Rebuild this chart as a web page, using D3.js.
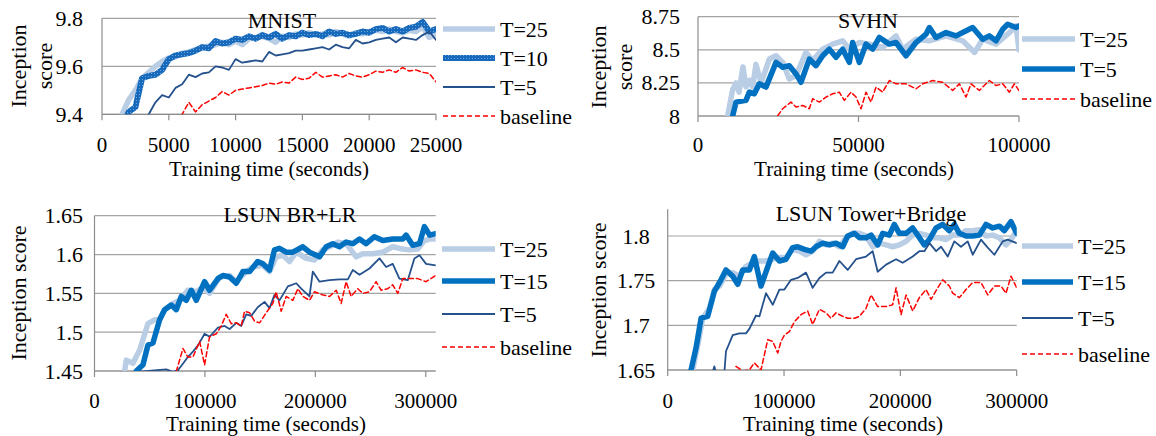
<!DOCTYPE html>
<html><head><meta charset="utf-8">
<script src="https://cdn.jsdelivr.net/npm/d3@7"></script>
<style>
body{margin:0;background:#fff}
svg{display:block}
text{font-family:"Liberation Serif","Times New Roman",serif;fill:#000}
</style>
</head><body>
<svg id="c" width="1156" height="436"></svg>
<script>
// ---------------- DATA ----------------
// MNIST
const mnistXTicks = [0,5000,10000,15000,20000,25000];
const mnistYTicks = [9.4,9.6,9.8];
const mnistT25Time = [1500,2000,2500,3000,3500,4000,4500,5000,5500,6000,6500,7000,7500,8000,8500,9000,9500,10000,10500,11000,11500,12000,12500,13000,13500,14000,14500,15000,15500,16000,16500,17000,17500,18000,18500,19000,19500,20000,20500,21000,21500,22000,22500,23000,23500,24000,24500,25000];
const mnistT25 = [9.40,9.46,9.50,9.55,9.575,9.60,9.62,9.635,9.64,9.655,9.66,9.67,9.675,9.685,9.69,9.70,9.69,9.705,9.69,9.715,9.72,9.725,9.715,9.70,9.725,9.72,9.735,9.73,9.74,9.73,9.735,9.73,9.745,9.735,9.725,9.74,9.735,9.745,9.75,9.745,9.755,9.745,9.74,9.75,9.745,9.765,9.72,9.735];
const mnistT10Time = [1500,2000,2500,3000,3500,4000,4500,5000,5500,6000,6500,7000,7500,8000,8500,9000,9500,10000,10500,11000,11500,12000,12500,13000,13500,14000,14500,15000,15500,16000,16500,17000,17500,18000,18500,19000,19500,20000,20500,21000,21500,22000,22500,23000,23500,24000,24500,25000];
const mnistT10 = [9.35,9.41,9.43,9.55,9.56,9.565,9.585,9.63,9.645,9.65,9.655,9.665,9.68,9.675,9.705,9.695,9.70,9.715,9.71,9.725,9.715,9.73,9.72,9.735,9.715,9.73,9.725,9.74,9.73,9.735,9.725,9.745,9.735,9.74,9.73,9.735,9.745,9.74,9.755,9.76,9.745,9.755,9.745,9.76,9.765,9.785,9.745,9.755];
const mnistT5Time = [3000,3500,4000,4500,5000,5500,6000,6500,7000,7500,8000,8500,9000,9500,10000,10500,11000,11500,12000,12500,13000,13500,14000,14500,15000,15500,16000,16500,17000,17500,18000,18500,19000,19500,20000,20500,21000,21500,22000,22500,23000,23500,24000,24500,25000];
const mnistT5 = [9.37,9.40,9.45,9.48,9.47,9.51,9.525,9.565,9.555,9.57,9.575,9.60,9.595,9.585,9.63,9.615,9.62,9.625,9.62,9.66,9.645,9.65,9.655,9.665,9.665,9.67,9.675,9.68,9.67,9.69,9.68,9.675,9.71,9.695,9.70,9.71,9.715,9.72,9.70,9.72,9.715,9.71,9.73,9.745,9.71];
const mnistBaseTime = [5500,6000,6500,7000,7500,8000,8500,9000,9500,10000,10500,11000,11500,12000,12500,13000,13500,14000,14500,15000,15500,16000,16500,17000,17500,18000,18500,19000,19500,20000,20500,21000,21500,22000,22500,23000,23500,24000,24500,25000];
const mnistBase = [9.37,9.40,9.45,9.41,9.44,9.455,9.47,9.495,9.48,9.50,9.505,9.51,9.515,9.52,9.53,9.525,9.535,9.53,9.555,9.545,9.55,9.575,9.555,9.56,9.565,9.555,9.57,9.56,9.555,9.565,9.58,9.575,9.585,9.575,9.595,9.58,9.585,9.575,9.57,9.535];

// SVHN
const svhnXTicks = [0,50000,100000];
const svhnYTicks = [8,8.25,8.5,8.75];
const svhnT25Time = [9240,10800,11840,12800,14000,14950,16000,17000,18070,19630,20800,22220,24300,26380,28450,30530,33640,35720,38840,41960,45070,47150,50260,53380,57530,61680,63760,67910,72070,77270,82460,86190,88690,92840,97000,99070,100000];
const svhnT25 = [8.0,8.2,8.25,8.18,8.37,8.22,8.27,8.22,8.39,8.25,8.33,8.43,8.455,8.405,8.28,8.305,8.48,8.418,8.505,8.543,8.568,8.505,8.555,8.543,8.518,8.605,8.505,8.58,8.568,8.605,8.568,8.48,8.58,8.543,8.63,8.68,8.50];
const svhnT5Time = [10800,11840,14950,16000,17550,19100,21180,24300,26380,28450,30530,32090,34680,36760,38840,40910,43000,45070,47150,48180,50260,52340,54410,56490,59600,61680,64800,67910,71030,72070,74150,77270,80380,82460,85570,88690,90770,92840,94920,96470,99070,100000];
const svhnT5 = [8.0,8.105,8.118,8.18,8.168,8.243,8.218,8.405,8.368,8.38,8.318,8.255,8.43,8.38,8.455,8.505,8.443,8.505,8.405,8.555,8.405,8.543,8.505,8.593,8.543,8.555,8.455,8.555,8.618,8.668,8.593,8.63,8.605,8.63,8.668,8.58,8.605,8.568,8.655,8.693,8.668,8.68];
const svhnBaseTime = [24800,26380,28960,30530,32610,34680,35720,37800,39880,41960,44030,45590,47670,49220,50780,52340,53900,55450,57530,59600,61680,64800,67910,69990,73110,76230,79340,81420,83500,85050,87650,90770,92840,94920,97000,98550,100000];
const svhnBase = [8.0,8.055,8.105,8.068,8.08,8.055,8.13,8.105,8.143,8.168,8.18,8.118,8.18,8.143,8.055,8.18,8.105,8.218,8.18,8.268,8.243,8.243,8.205,8.243,8.268,8.255,8.193,8.243,8.143,8.243,8.193,8.268,8.23,8.243,8.18,8.243,8.193];

// LSUN BR+LR
const lbXTicks = [0,100000,200000,300000];
const lbYTicks = [1.45,1.5,1.55,1.6,1.65];
const lbT25Time = [27300,28800,34800,40900,48400,54400,59000,63500,71000,77100,84600,92200,98200,104200,113300,122300,128400,137400,143400,152500,158500,164500,170600,176600,182700,191700,199200,206800,215800,220400,227900,237000,243000,252000,261100,270100,279200,285200,292700,298800,303500,309000];
const lbT25 = [1.45,1.464,1.46,1.477,1.511,1.516,1.516,1.529,1.537,1.541,1.554,1.552,1.558,1.55,1.571,1.573,1.565,1.578,1.584,1.586,1.578,1.597,1.599,1.591,1.603,1.595,1.593,1.606,1.612,1.616,1.614,1.597,1.601,1.601,1.603,1.61,1.607,1.606,1.607,1.618,1.62,1.62];
const lbT15Time = [37860,43890,48420,52940,58970,63500,69530,74060,78580,83110,87630,92160,99700,104200,111800,116300,122300,128400,134400,140500,147800,152500,158500,163000,167500,173600,179600,188700,194700,203800,209800,215800,221900,227900,233900,240000,246000,253500,261100,270100,279200,282200,288200,294300,298800,303500,309000];
const lbT15 = [1.45,1.458,1.4835,1.486,1.516,1.529,1.535,1.529,1.546,1.541,1.554,1.541,1.565,1.554,1.569,1.573,1.571,1.563,1.578,1.578,1.591,1.588,1.58,1.606,1.608,1.603,1.603,1.61,1.603,1.597,1.61,1.614,1.61,1.616,1.614,1.62,1.614,1.623,1.618,1.62,1.62,1.625,1.612,1.614,1.636,1.625,1.627];
const lbT5Time = [38000,65000,71000,75600,84600,89100,93700,99700,104200,111800,117800,122300,128400,132900,137400,141900,147800,154000,158500,163000,167500,175100,182700,187200,194700,197700,203800,212800,221900,229400,233900,240000,249000,258100,264100,270100,276100,283700,289700,294300,300300,309000];
const lbT5 = [1.449,1.452,1.449,1.451,1.468,1.475,1.483,1.498,1.494,1.506,1.508,1.504,1.512,1.508,1.523,1.521,1.532,1.539,1.531,1.548,1.541,1.559,1.563,1.556,1.546,1.578,1.565,1.567,1.568,1.568,1.58,1.574,1.582,1.595,1.584,1.588,1.569,1.567,1.595,1.599,1.588,1.586];
const lbBaseTime = [74000,80100,84600,89100,95200,99700,104200,110300,114800,119300,123800,128400,132900,135900,140500,145000,149500,155500,161500,164500,169100,173600,179600,184200,188700,194700,199200,206800,212800,218900,223400,227900,232400,238400,243000,249000,255000,259600,265600,270100,274700,279200,285200,292700,300300,309000];
const lbBase = [1.449,1.479,1.468,1.468,1.488,1.458,1.494,1.498,1.508,1.523,1.511,1.512,1.508,1.527,1.525,1.514,1.512,1.525,1.537,1.552,1.527,1.546,1.541,1.556,1.546,1.541,1.552,1.548,1.546,1.554,1.537,1.565,1.546,1.556,1.55,1.552,1.565,1.554,1.556,1.561,1.55,1.569,1.569,1.569,1.565,1.573];

// LSUN Tower+Bridge
const ltXTicks = [0,100000,200000,300000];
const ltYTicks = [1.65,1.7,1.75,1.8];
const ltT25Time = [21500,25800,30100,35800,40100,44400,50100,55900,61600,67300,73100,78800,84500,90300,96000,101700,107400,113200,118900,124600,130400,136100,141800,147600,153300,159000,164800,170500,176200,181900,187700,193400,199100,204900,210600,216300,222100,227800,233500,239300,245000,250700,256400,262200,267900,273600,279400,285100,290800,295100,300000];
const ltT25 = [1.65,1.678,1.708,1.719,1.74,1.744,1.757,1.759,1.755,1.766,1.77,1.772,1.772,1.774,1.776,1.776,1.785,1.783,1.779,1.783,1.794,1.79,1.792,1.788,1.798,1.803,1.803,1.8,1.788,1.792,1.79,1.788,1.79,1.794,1.801,1.803,1.801,1.798,1.798,1.796,1.801,1.801,1.806,1.806,1.807,1.8,1.801,1.798,1.79,1.796,1.806];
const ltT15Time = [20060,24400,28700,34400,40100,45800,50100,55900,60200,64500,70200,74500,80200,84500,90300,96000,101700,107400,111700,117500,123200,127500,133200,139000,144700,150400,154700,160500,164800,170500,174800,180500,184800,190500,194800,199100,204900,210600,214900,220600,224900,230700,236400,242100,246400,250700,256400,262200,267900,273600,279400,285100,289400,295100,300000];
const ltT15 = [1.65,1.675,1.708,1.71,1.738,1.751,1.762,1.755,1.746,1.762,1.762,1.777,1.744,1.76,1.781,1.772,1.774,1.787,1.788,1.785,1.783,1.788,1.792,1.79,1.792,1.788,1.8,1.803,1.798,1.798,1.801,1.79,1.803,1.801,1.813,1.803,1.803,1.809,1.801,1.79,1.796,1.809,1.813,1.806,1.813,1.803,1.8,1.8,1.801,1.813,1.809,1.811,1.806,1.816,1.803];
const ltT5Time = [38700,40100,41500,48700,50100,55900,61600,67300,70200,75900,78800,84500,90300,96000,100300,106000,111700,118900,124600,130400,136100,141800,147600,154700,161900,170500,176200,180500,187700,196300,202000,210600,216300,220600,225000,230700,235000,240700,246400,252100,257900,262200,269300,275100,280800,288000,292300,300000];
const ltT5 = [1.648,1.654,1.647,1.647,1.671,1.689,1.691,1.691,1.696,1.711,1.71,1.736,1.723,1.74,1.74,1.751,1.753,1.759,1.742,1.753,1.759,1.759,1.772,1.762,1.774,1.777,1.783,1.76,1.768,1.774,1.77,1.777,1.783,1.783,1.792,1.783,1.788,1.777,1.794,1.788,1.794,1.779,1.796,1.787,1.779,1.794,1.796,1.792];
const ltBaseTime = [58700,64500,70200,74500,80200,86000,90300,94600,97400,100300,104600,108900,114600,120300,124600,130400,136100,140400,144700,150400,154700,160500,164800,170500,174800,180500,187700,193400,196300,200600,204900,210600,216300,222100,226400,232100,236400,242100,245000,250700,256400,262200,269300,275100,280800,286500,290800,295100,300000];
const ltBase = [1.654,1.649,1.65,1.658,1.65,1.684,1.682,1.669,1.682,1.689,1.693,1.704,1.712,1.716,1.701,1.718,1.714,1.708,1.714,1.71,1.708,1.708,1.71,1.719,1.734,1.721,1.721,1.723,1.742,1.712,1.734,1.716,1.731,1.74,1.729,1.742,1.751,1.744,1.736,1.731,1.74,1.748,1.748,1.734,1.744,1.744,1.736,1.755,1.742];

// ---------------- STYLES ----------------
const styles = {
  light: {stroke:"#b9cde5", width:5.5, dash:null},
  heavy: {stroke:"#0070c0", width:5.5, dash:null},
  tex:   {stroke:"url(#tex)", width:6, dash:null},
  thin:  {stroke:"#25518d", width:1.8, dash:null},
  base:  {stroke:"#ff0000", width:1.5, dash:"5,3"}
};

const panels = [
  {title:"MNIST", titleX:282, titleY:28, xDomain:[0,25000], yDomain:[9.4,9.8],
   xr:[102,436], yr:[114.3,18.3], xTicks:mnistXTicks, yTicks:mnistYTicks, yFmt:d=>String(d),
   yLabelX:83, yLabelAnchor:"end", yTitle:["Inception","score"], yTitleX:[26,52], yTitleY:66,
   xTitleX:269, xTitleY:176, xLabelY:152,
   legend:{x0:443,x1:495,tx:500,rows:[29,58,87,116]},
   series:[
     {name:"T=25", t:mnistT25Time, v:mnistT25, st:"light"},
     {name:"T=10", t:mnistT10Time, v:mnistT10, st:"tex"},
     {name:"T=5", t:mnistT5Time, v:mnistT5, st:"thin"},
     {name:"baseline", t:mnistBaseTime, v:mnistBase, st:"base"}]},
  {title:"SVHN", titleX:868, titleY:28, xDomain:[0,100000], yDomain:[8,8.75],
   xr:[698,1019], yr:[116,16.7], xTicks:svhnXTicks, yTicks:svhnYTicks, yFmt:d=>String(d),
   yLabelX:680, yLabelAnchor:"end", yTitle:["Inception","score"], yTitleX:[606,632], yTitleY:67,
   xTitleX:854, xTitleY:176, xLabelY:152,
   legend:{x0:1022,x1:1075,tx:1080,rows:[39,69,99]},
   series:[
     {name:"T=25", t:svhnT25Time, v:svhnT25, st:"light"},
     {name:"T=5", t:svhnT5Time, v:svhnT5, st:"heavy"},
     {name:"baseline", t:svhnBaseTime, v:svhnBase, st:"base"}]},
  {title:"LSUN BR+LR", titleX:290, titleY:222, xDomain:[0,309000], yDomain:[1.45,1.65],
   xr:[94.5,435.7], yr:[371,215.7], xTicks:lbXTicks, yTicks:lbYTicks, yFmt:d=>String(d),
   yLabelX:83, yLabelAnchor:"end", yTitle:["Inception score"], yTitleX:[26], yTitleY:293,
   xTitleX:266, xTitleY:431, xLabelY:407.5,
   legend:{x0:442,x1:495,tx:500,rows:[249,281,314,347]},
   series:[
     {name:"T=25", t:lbT25Time, v:lbT25, st:"light"},
     {name:"T=15", t:lbT15Time, v:lbT15, st:"heavy"},
     {name:"T=5", t:lbT5Time, v:lbT5, st:"thin"},
     {name:"baseline", t:lbBaseTime, v:lbBase, st:"base"}]},
  {title:"LSUN Tower+Bridge", titleX:871, titleY:221, xDomain:[0,300000], yDomain:[1.65,1.83],
   xr:[667.7,1016.7], yr:[370,209.2], xTicks:ltXTicks, yTicks:ltYTicks, yFmt:d=>String(d),
   yLabelX:636, yLabelAnchor:"middle", yTitle:["Inception score"], yTitleX:[606], yTitleY:290,
   xTitleX:843, xTitleY:431, xLabelY:407.5,
   legend:{x0:1022,x1:1073,tx:1078,rows:[246,282,318,354]},
   series:[
     {name:"T=25", t:ltT25Time, v:ltT25, st:"light"},
     {name:"T=15", t:ltT15Time, v:ltT15, st:"heavy"},
     {name:"T=5", t:ltT5Time, v:ltT5, st:"thin"},
     {name:"baseline", t:ltBaseTime, v:ltBase, st:"base"}]}
];

// ---------------- DRAW ----------------
const svg = d3.select("#c");
const defs = svg.append("defs");
const pat = defs.append("pattern").attr("id","tex").attr("width",3).attr("height",3).attr("patternUnits","userSpaceOnUse");
pat.append("rect").attr("width",3).attr("height",3).attr("fill","#1769bb");
pat.append("rect").attr("x",1).attr("y",1).attr("width",1).attr("height",1).attr("fill","#6da6dd");

const GRID="#a3a3a3", AXIS="#8c8c8c", FS=22, FS_X=21;

panels.forEach((p,i)=>{
  const x = d3.scaleLinear().domain(p.xDomain).range(p.xr);
  const y = d3.scaleLinear().domain(p.yDomain).range(p.yr);
  const g = svg.append("g");
  const clipId = "clip"+i;
  defs.append("clipPath").attr("id",clipId).append("rect")
    .attr("x",p.xr[0]).attr("y",p.yr[1]).attr("width",p.xr[1]-p.xr[0]).attr("height",p.yr[0]-p.yr[1]);

  // gridlines
  g.selectAll(".grid").data(p.yTicks).enter().append("line")
    .attr("x1",p.xr[0]).attr("x2",p.xr[1]).attr("y1",d=>y(d)).attr("y2",d=>y(d))
    .attr("stroke",GRID).attr("stroke-width",1.2);

  // x axis line + ticks
  g.append("line").attr("x1",p.xr[0]).attr("x2",p.xr[1]).attr("y1",p.yr[0]).attr("y2",p.yr[0])
    .attr("stroke",AXIS).attr("stroke-width",1.2);
  g.selectAll(".xt").data(p.xTicks).enter().append("line")
    .attr("x1",d=>x(d)).attr("x2",d=>x(d)).attr("y1",p.yr[0]).attr("y2",p.yr[0]+6)
    .attr("stroke",AXIS).attr("stroke-width",1.2);
  // y axis line
  g.append("line").attr("x1",p.xr[0]).attr("x2",p.xr[0]).attr("y1",p.yr[0]).attr("y2",p.yr[1])
    .attr("stroke",AXIS).attr("stroke-width",1.2);

  // tick labels
  g.selectAll(".xl").data(p.xTicks).enter().append("text")
    .attr("x",d=>x(d)).attr("y",p.xLabelY).attr("text-anchor","middle")
    .attr("font-size",FS_X).text(d=>String(d));
  g.selectAll(".yl").data(p.yTicks).enter().append("text")
    .attr("x",p.yLabelX).attr("y",d=>y(d)+7.5).attr("text-anchor",p.yLabelAnchor)
    .attr("font-size",FS).text(p.yFmt);

  // axis titles
  g.append("text").attr("x",p.xTitleX).attr("y",p.xTitleY).attr("text-anchor","middle")
    .attr("font-size",FS_X).text("Training time (seconds)");
  p.yTitle.forEach((t,k)=>{
    g.append("text").attr("transform",`translate(${p.yTitleX[k]},${p.yTitleY}) rotate(-90)`)
      .attr("text-anchor","middle").attr("font-size",FS).text(t);
  });

  // series
  const line = d3.line().x(d=>x(d[0])).y(d=>y(d[1]));
  const lg = g.append("g").attr("clip-path",`url(#${clipId})`);
  p.series.forEach(s=>{
    const st = styles[s.st];
    const pts = s.t.map((t,k)=>[t,s.v[k]]);
    lg.append("path").datum(pts).attr("d",line).attr("fill","none")
      .attr("stroke",st.stroke).attr("stroke-width",st.width)
      .attr("stroke-linejoin","round").attr("stroke-linecap","round")
      .attr("stroke-dasharray",st.dash);
  });

  // chart title
  g.append("text").attr("x",p.titleX).attr("y",p.titleY).attr("text-anchor","middle")
    .attr("font-size",FS).text(p.title);

  // legend
  p.series.forEach((s,k)=>{
    const st = styles[s.st];
    const ry = p.legend.rows[k];
    g.append("line").attr("x1",p.legend.x0).attr("x2",p.legend.x1).attr("y1",ry).attr("y2",ry)
      .attr("stroke",st.stroke).attr("stroke-width",st.width).attr("stroke-dasharray",st.dash);
    g.append("text").attr("x",p.legend.tx).attr("y",ry+7.5).attr("font-size",FS).text(s.name);
  });
});
</script>
</body></html>
